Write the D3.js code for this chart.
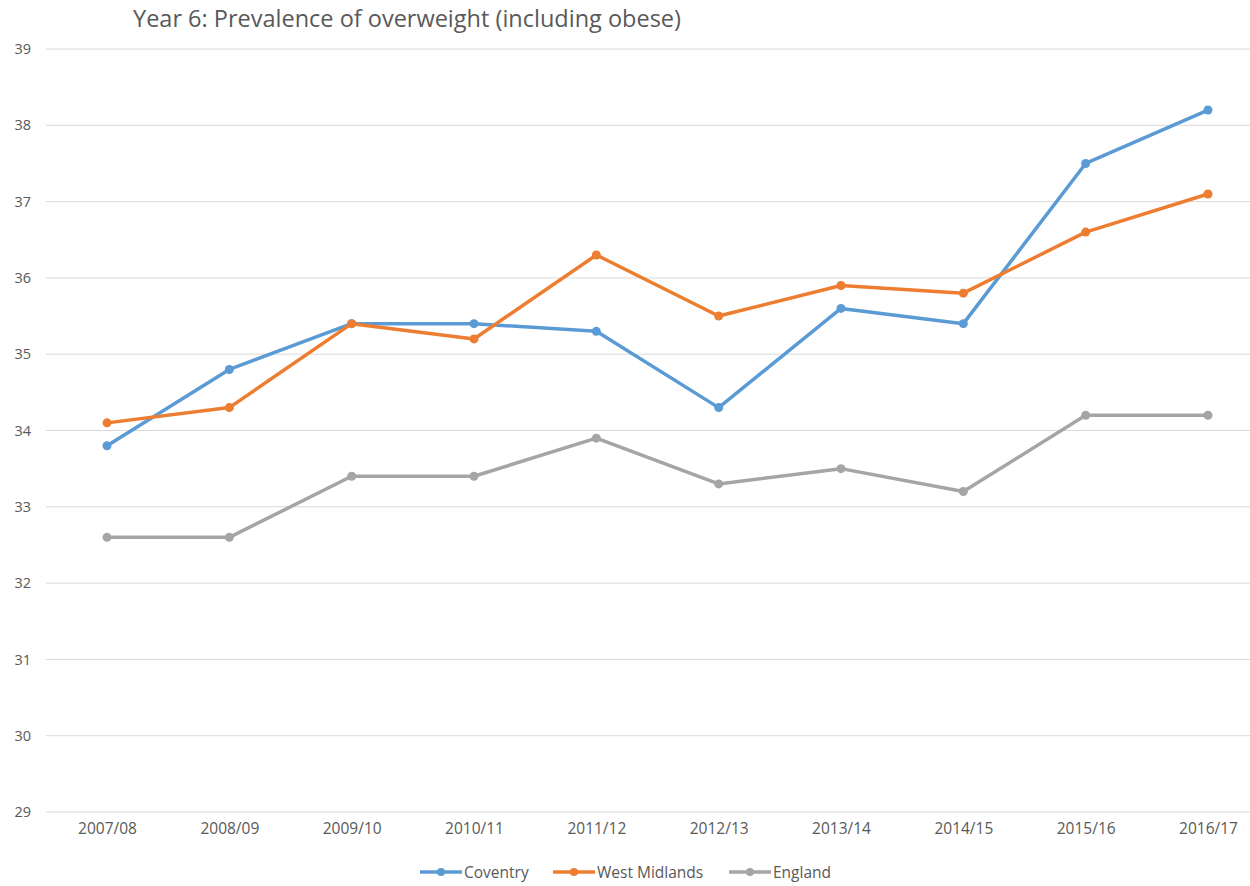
<!DOCTYPE html>
<html>
<head>
<meta charset="utf-8">
<script src="https://cdn.jsdelivr.net/npm/d3@7/dist/d3.min.js"></script>
<style>
  body { margin: 0; background: #fff; }
  svg { display: block; font-family: "Open Sans", "Noto Sans", sans-serif; }
</style>
</head>
<body>
<div id="viz"></div>
<script>
var years = ['2007/08','2008/09','2009/10','2010/11','2011/12','2012/13','2013/14','2014/15','2015/16','2016/17'];
var coventry = [33.8, 34.8, 35.4, 35.4, 35.3, 34.3, 35.6, 35.4, 37.5, 38.2];
var westMidlands = [34.1, 34.3, 35.4, 35.2, 36.3, 35.5, 35.9, 35.8, 36.6, 37.1];
var england = [32.6, 32.6, 33.4, 33.4, 33.9, 33.3, 33.5, 33.2, 34.2, 34.2];
var yTicks = [29, 30, 31, 32, 33, 34, 35, 36, 37, 38, 39];

var width = 1250;
var height = 886;

var series = [
  {name: 'Coventry', values: coventry, color: '#5B9BD5'},
  {name: 'West Midlands', values: westMidlands, color: '#ED7D31'},
  {name: 'England', values: england, color: '#A5A5A5'}
];

var svg = d3.select('#viz').append('svg')
  .attr('width', width)
  .attr('height', height);

var xScale = d3.scalePoint()
  .domain(years)
  .range([107, 1208]);

var yScale = d3.scaleLinear()
  .domain([29, 39])
  .range([812, 49]);

// title
svg.append('text')
  .attr('x', 133)
  .attr('y', 27)
  .attr('fill', '#595959')
  .style('font-size', '23.5px')
  .text('Year 6: Prevalence of overweight (including obese)');

// gridlines
svg.append('g')
  .selectAll('line').data(yTicks)
  .enter().append('line')
  .attr('x1', 46)
  .attr('x2', 1270)
  .attr('y1', d => yScale(d))
  .attr('y2', d => yScale(d))
  .attr('stroke', '#d9d9d9')
  .attr('stroke-width', 1);

// y axis labels
var yAxis = d3.axisLeft(yScale).tickValues(yTicks).tickSize(0).tickPadding(0);
var yG = svg.append('g')
  .attr('transform', 'translate(31,0)')
  .call(yAxis);
yG.select('.domain').remove();
yG.selectAll('text')
  .attr('fill', '#595959')
  .style('font-size', '14.5px')
  .style('font-family', '"Open Sans", sans-serif');

// x axis labels
var xAxis = d3.axisBottom(xScale).tickSize(0).tickPadding(0);
var xG = svg.append('g')
  .attr('transform', 'translate(0,823)')
  .call(xAxis);
xG.select('.domain').remove();
xG.selectAll('text')
  .attr('fill', '#595959')
  .style('font-size', '15.5px')
  .style('font-family', '"Open Sans", sans-serif');

var line = d3.line()
  .x((d, i) => xScale(years[i]))
  .y(d => yScale(d));

series.forEach(function(s) {
  var g = svg.append('g').attr('class', s.name);
  g.append('path')
    .datum(s.values)
    .attr('d', line)
    .attr('fill', 'none')
    .attr('stroke', s.color)
    .attr('stroke-width', 3.5)
    .attr('stroke-linejoin', 'round');
  g.selectAll('circle').data(s.values)
    .enter().append('circle')
    .attr('cx', (d, i) => xScale(years[i]))
    .attr('cy', d => yScale(d))
    .attr('r', 4.5)
    .attr('fill', s.color);
});

// legend
var legendX = [420, 553, 729];
var legend = svg.append('g');
series.forEach(function(s, i) {
  var lg = legend.append('g').attr('transform', 'translate(' + legendX[i] + ',872)');
  lg.append('line')
    .attr('x1', 0).attr('x2', 42)
    .attr('y1', 0).attr('y2', 0)
    .attr('stroke', s.color)
    .attr('stroke-width', 3.5);
  lg.append('circle')
    .attr('cx', 21).attr('cy', 0).attr('r', 4)
    .attr('fill', s.color);
  lg.append('text')
    .attr('x', 44)
    .attr('y', 5.5)
    .attr('fill', '#595959')
    .style('font-size', '15.5px')
    .text(s.name);
});
</script>
</body>
</html>
